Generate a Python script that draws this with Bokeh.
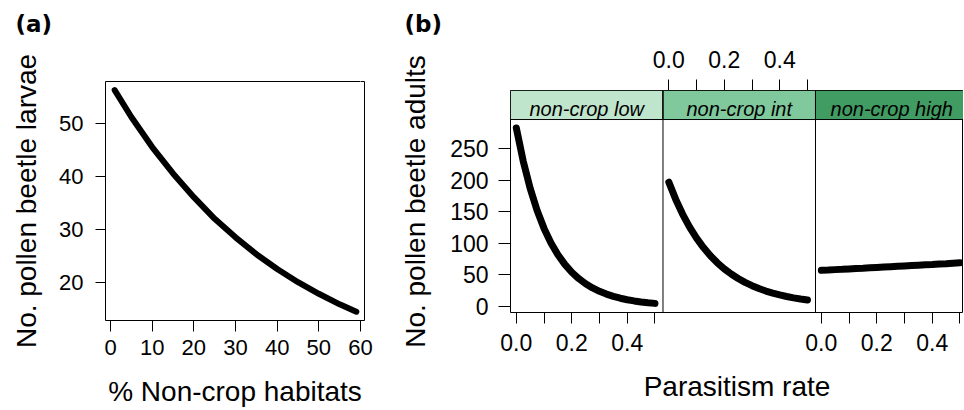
from bokeh.plotting import figure
from bokeh.models import Range1d, FixedTicker, Span, BoxAnnotation, Label, LinearAxis, ColumnDataSource
from bokeh.layouts import row
from bokeh.transform import dodge
from bokeh.embed import file_html
from bokeh.resources import INLINE

# ---------------- data ----------------
# panel (a)
noncrop_pct = [1, 5, 10, 15, 20, 25, 30, 35, 40, 45, 50, 55, 59]
larvae = [56.4, 51.3, 45.6, 40.6, 36.1, 32.0, 28.5, 25.3, 22.5, 20.0, 17.8, 15.8, 14.4]
a_xticks = [0, 10, 20, 30, 40, 50, 60]
a_yticks = [20, 30, 40, 50]

# panel (b)
parasitism = [0.0, 0.025, 0.05, 0.075, 0.1, 0.125, 0.15, 0.175, 0.2, 0.225, 0.25,
              0.275, 0.3, 0.325, 0.35, 0.375, 0.4, 0.425, 0.45, 0.475, 0.5]
adults_low = [283.0, 230.1, 187.1, 152.1, 123.6, 100.5, 81.7, 66.4, 54.0, 43.9, 35.7,
              29.0, 23.6, 19.2, 15.6, 12.7, 10.3, 8.4, 6.8, 5.5, 4.5]
adults_int = [197.0, 169.6, 145.9, 125.6, 108.1, 93.1, 80.1, 68.9, 59.3, 51.1, 44.0,
              37.8, 32.6, 28.0, 24.1, 20.8, 17.9, 15.4, 13.2, 11.4, 9.8]
adults_high = [57.0, 57.5, 58.1, 58.6, 59.2, 59.8, 60.3, 60.9, 61.5, 62.1, 62.7,
               63.3, 63.9, 64.5, 65.1, 65.7, 66.3, 67.0, 67.6, 68.3, 68.9]
facet_names = ["non-crop low", "non-crop int", "non-crop high"]
facet_colors = ["#c0e5cd", "#80c99c", "#419c63"]
b_xticks = [0.0, 0.1, 0.2, 0.3, 0.4, 0.5]
b_xlabels = ["0.0", "", "0.2", "", "0.4", ""]
b_yticks = [0, 50, 100, 150, 200, 250]

FONT = "Liberation Sans"

def style_axis(ax, size):
    ax.axis_line_color = None
    ax.major_tick_line_color = "black"
    ax.major_tick_in = 0
    ax.minor_tick_line_color = None
    ax.major_label_text_font = FONT
    ax.major_label_text_font_size = size
    ax.major_label_text_color = "black"
    ax.axis_label_text_font = FONT
    ax.axis_label_text_font_size = "28px"
    ax.axis_label_text_font_style = "normal"
    ax.axis_label_text_color = "black"

def style_title(t, text, offset):
    t.text = text
    t.align = "left"
    t.vertical_align = "bottom"
    t.offset = offset
    t.standoff = 0
    t.text_font = "DejaVu Sans"
    t.text_font_style = "bold"
    t.text_font_size = "23px"
    t.text_color = "black"

def spacer_axis(size, at):
    # a blank axis above the frame (white tick, no label), used only to lift the panel letter
    ax = LinearAxis(ticker=FixedTicker(ticks=[at], minor_ticks=[]))
    ax.axis_line_color = None
    ax.major_tick_line_color = "white"
    ax.minor_tick_line_color = None
    ax.major_tick_out = size
    ax.major_tick_in = 0
    ax.major_label_standoff = 0
    ax.major_label_text_color = None
    return ax

# ---------------- panel (a) ----------------
pa = figure(width=380, height=409, x_range=Range1d(-1.2, 60.96), y_range=Range1d(12.74, 58.02),
            output_backend="svg", toolbar_location=None, frame_align=False, title="(a)",
            min_border_left=105, min_border_right=16, min_border_top=81, min_border_bottom=89)
pa.grid.visible = False
pa.outline_line_color = "black"
pa.outline_line_alpha = 1
pa.outline_line_width = 1
style_title(pa.title, "(a)", -90)

pa.line(noncrop_pct, larvae, line_width=6, line_color="black", line_cap="round")

ax = pa.below[0]
style_axis(ax, "22px")
ax.ticker = FixedTicker(ticks=a_xticks, minor_ticks=[])
ax.major_tick_out = 11
ax.major_label_standoff = 8
ax.axis_label = "% Non-crop habitats"
ax.axis_label_standoff = 18

ax = pa.left[0]
style_axis(ax, "22px")
ax.ticker = FixedTicker(ticks=a_yticks, minor_ticks=[])
ax.major_tick_out = 10
ax.major_label_standoff = 12
ax.axis_label = "No. pollen beetle larvae"
ax.axis_label_standoff = 14

pa.add_layout(spacer_axis(45, 60), "above")

# ---------------- panel (b) ----------------
fw = 0.55          # width of one facet in the shared x coordinate
x0 = -0.021
x1 = x0 + fw
xend = 1.6128
ytop = 342.6
strip_bottom = 296.5

pb = figure(width=583, height=409, x_range=Range1d(x0, xend), y_range=Range1d(-10.0, ytop),
            output_backend="svg", toolbar_location=None, frame_align=False, title="(b)",
            min_border_left=130, min_border_right=0, min_border_top=90, min_border_bottom=97)
pb.grid.visible = False
pb.outline_line_color = "black"
pb.outline_line_alpha = 1
pb.outline_line_width = 1
style_title(pb.title, "(b)", -106)

series = [adults_low, adults_int, adults_high]
for k, ys in enumerate(series):
    src = ColumnDataSource(dict(x=parasitism, y=ys))
    pb.line(x=dodge("x", k * fw), y="y", source=src, line_width=7, line_color="black", line_cap="round")

# facet strips and separators
for k in range(3):
    left = x0 + k * fw
    right = min(x1 + k * fw, xend)
    pb.add_layout(BoxAnnotation(left=left, right=right, bottom=strip_bottom, top=ytop,
                                fill_color=facet_colors[k], fill_alpha=1,
                                line_color="black", line_width=1, line_alpha=1))
    pb.add_layout(Label(x=(x0 + x1) / 2 + k * fw, y=313.5, text=facet_names[k],
                        text_align="center", text_baseline="alphabetic",
                        text_font=FONT, text_font_style="italic", text_font_size="20px",
                        text_color="black"))
for k in (1, 2):
    pb.add_layout(Span(location=x0 + k * fw, dimension="height", line_color="black", line_width=1))

bottom_ticks, bottom_over = [], {}
top_ticks, top_over = [], {}
for k in (0, 2):
    for t, lab in zip(b_xticks, b_xlabels):
        v = round(t + k * fw, 6)
        bottom_ticks.append(v)
        bottom_over[v] = lab
for t, lab in zip(b_xticks, b_xlabels):
    v = round(t + fw, 6)
    top_ticks.append(v)
    top_over[v] = lab

ax = pb.below[0]
style_axis(ax, "23px")
ax.ticker = FixedTicker(ticks=bottom_ticks, minor_ticks=[])
ax.major_label_overrides = bottom_over
ax.major_tick_out = 11
ax.major_label_standoff = 10
ax.axis_label = "Parasitism rate"
ax.axis_label_standoff = 17

ax = pb.left[0]
style_axis(ax, "23px")
ax.ticker = FixedTicker(ticks=b_yticks, minor_ticks=[])
ax.major_tick_out = 12
ax.major_label_standoff = 10
ax.axis_label = "No. pollen beetle adults"
ax.axis_label_standoff = 16

top_axis = LinearAxis(ticker=FixedTicker(ticks=top_ticks, minor_ticks=[]))
style_axis(top_axis, "23px")
top_axis.major_label_overrides = top_over
top_axis.major_tick_out = 11
top_axis.major_label_standoff = 12
pb.add_layout(top_axis, "above")
pb.add_layout(spacer_axis(11, 1.6), "above")

layout = row(pa, pb)
open("out.html", "w").write(file_html(layout, INLINE))
